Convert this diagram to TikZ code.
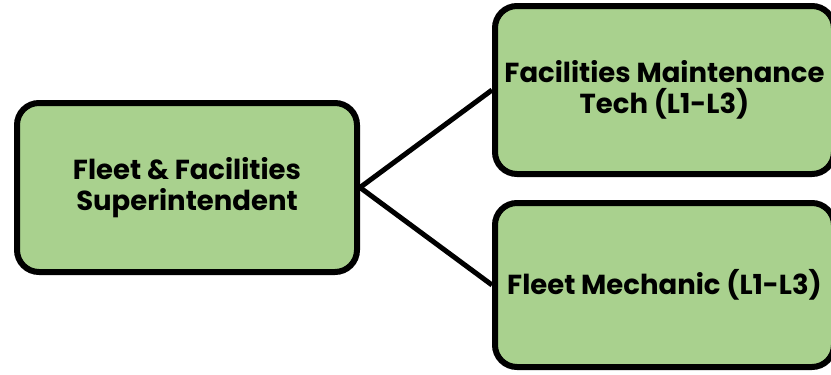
\documentclass[tikz,border=0pt]{standalone}
\usepackage{fontspec}
\setmainfont{Poppins}
\definecolor{boxgreen}{HTML}{A9D18E}
\tikzset{
  orgbox/.style={draw=black, line width=6pt, fill=boxgreen, rounded corners=22pt,
    inner sep=0pt, align=center, font=\fontsize{27.5}{31}\selectfont\bfseries},
  link/.style={draw=black, line width=5pt}
}
\begin{document}
\begin{tikzpicture}[x=1pt, y=-1pt]
  \useasboundingbox (0,0) rectangle (831,375);
  \node[orgbox, minimum width=340pt, minimum height=169pt] (sup) at (187,187.5)
    {Fleet \& Facilities\\Superintendent};
  \node[orgbox, minimum width=339pt, minimum height=168pt] (tech) at (664.5,90)
    {Facilities Maintenance\\Tech (L1-L3)};
  \node[orgbox, minimum width=339pt, minimum height=164pt] (mech) at (664.5,285)
    {Fleet Mechanic (L1-L3)};
  \draw[link] (sup.east) -- (tech.west);
  \draw[link] (sup.east) -- (mech.west);
\end{tikzpicture}
\end{document}
